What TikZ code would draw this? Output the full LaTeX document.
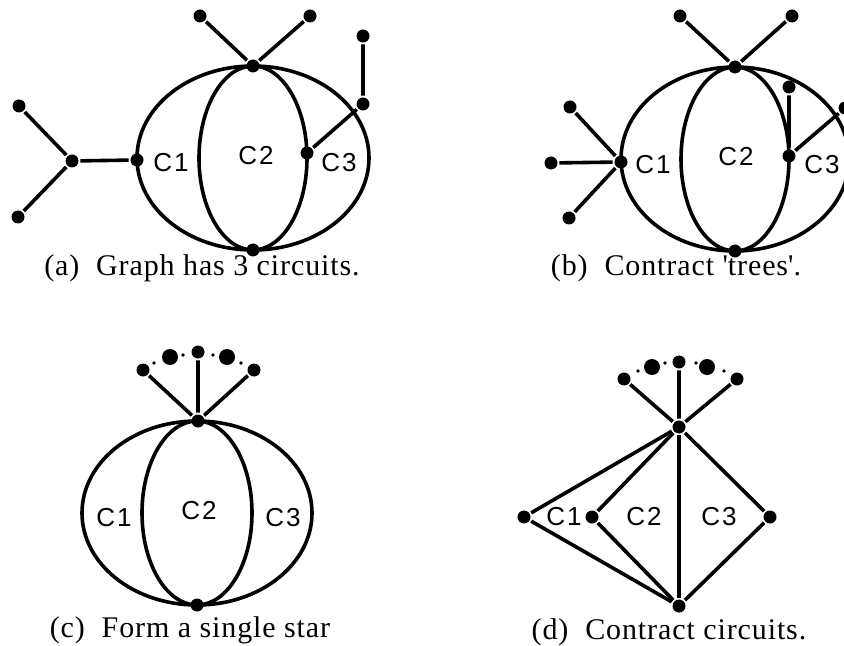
\documentclass[tikz,border=0pt]{standalone}
\usepackage{fontspec}
\setmainfont{Liberation Serif}
\setsansfont{Liberation Sans}
\usetikzlibrary{positioning}

\begin{document}
\begin{tikzpicture}[x=0.5pt,y=-0.5pt,line width=1.8pt]
\tikzset{dot/.style={circle,fill,inner sep=0pt,minimum size=6.5pt},
bigdot/.style={dot,minimum size=8pt},
tinydot/.style={dot,minimum size=1.8pt},
lbl/.style={font=\sffamily\fontsize{13}{15}\selectfont\addfontfeatures{LetterSpace=8}},
captxt/.style={font=\fontsize{15}{17}\selectfont\addfontfeatures{LetterSpace=3}}}
\useasboundingbox (0,0) rectangle (844,646);
\clip (0,0) rectangle (844,646);

% (a) graph has 3 circuits
\draw (253,158) ellipse [x radius=116,y radius=92];
\draw (253,158) ellipse [x radius=54,y radius=92];
\node[dot] (aT) at (253,66) {};
\node[dot] (aB) at (253,250) {};
\node[dot] (aTl) at (200,16) {};
\node[dot] (aTr) at (310,16) {};
\node[dot] (aC1) at (137,160) {};
\node[dot] (aJ) at (72,161) {};
\node[dot] (aJu) at (19,106) {};
\node[dot] (aJd) at (18,217) {};
\node[dot] (aC3) at (307,153) {};
\node[dot] (aK) at (363,104) {};
\node[dot] (aKu) at (363,36) {};
\draw (aTl)--(aT)--(aTr);
\draw (aJu)--(aJ)--(aJd);
\draw (aJ)--(aC1);
\draw (aC3)--(aK)--(aKu);
\node[lbl] (aL1) at (171,163) {C1};
\node[lbl] (aL2) at (256,156) {C2};
\node[lbl] (aL3) at (339,163) {C3};
\node[captxt] (acap) at (202,268) {(a)\ \ Graph has 3 circuits.};

% (b) contract trees
\draw (735,159) ellipse [x radius=114,y radius=92];
\draw (735,159) ellipse [x radius=54,y radius=92];
\node[dot] (bT) at (735,67) {};
\node[dot] (bB) at (735,251) {};
\node[dot] (bTl) at (680,16) {};
\node[dot] (bTr) at (792,16) {};
\node[dot] (bC1) at (621,162) {};
\node[dot] (bLu) at (570,107) {};
\node[dot] (bLm) at (551,163) {};
\node[dot] (bLd) at (569,218) {};
\node[dot] (bC3) at (789,156) {};
\node[dot] (bV) at (789,87) {};
\node[dot] (bK) at (845,108) {};
\draw (bTl)--(bT)--(bTr);
\draw (bLu)--(bC1) (bLm)--(bC1) (bLd)--(bC1);
\draw (bV)--(bC3)--(bK);
\node[lbl] (bL1) at (653,165) {C1};
\node[lbl] (bL2) at (736,157) {C2};
\node[lbl] (bL3) at (822,165) {C3};
\node[captxt] (bcap) at (676,268) {(b)\ \ Contract \textquotesingle trees\textquotesingle.};

% (c) form a single star
\draw (197,513) ellipse [x radius=115,y radius=92];
\draw (197,513) ellipse [x radius=55,y radius=92];
\node[dot] (cT) at (198,421) {};
\node[dot] (cB) at (197,605) {};
\node[dot] (cS1) at (143,370) {};
\node[dot] (cS2) at (198,352) {};
\node[dot] (cS3) at (254,370) {};
\node[bigdot] (cX1) at (170,357) {};
\node[bigdot] (cX2) at (227,357) {};
\foreach \p/\n in {154/363,183/355,213/355,241/363}
  \node[tinydot] at (\p,\n) {};
\draw (cS1)--(cT) (cS2)--(cT) (cS3)--(cT);
\node[lbl] (cL1) at (114,518) {C1};
\node[lbl] (cL2) at (199,511) {C2};
\node[lbl] (cL3) at (283,518) {C3};
\node[captxt] (ccap) at (190,630) {(c)\ \ Form a single star};

% (d) contract circuits
\node[dot] (dT) at (679,427) {};
\node[dot] (dB) at (679,606) {};
\node[dot] (dL) at (524,517) {};
\node[dot] (dM) at (592,517) {};
\node[dot] (dR) at (770,517) {};
\node[dot] (dS1) at (624,379) {};
\node[dot] (dS2) at (679,362) {};
\node[dot] (dS3) at (737,379) {};
\node[bigdot] (dX1) at (652,367) {};
\node[bigdot] (dX2) at (707,367) {};
\foreach \p/\n in {638/371,665/363,696/363,724/371}
  \node[tinydot] at (\p,\n) {};
\draw (dS1)--(dT) (dS2)--(dT) (dS3)--(dT);
\draw (dT)--(dL)--(dB);
\draw (dT)--(dM)--(dB);
\draw (dT)--(dR)--(dB);
\draw (dT)--(dB);
\node[lbl] (dL1) at (564,517) {C1};
\node[lbl] (dL2) at (644,517) {C2};
\node[lbl] (dL3) at (719,517) {C3};
\node[captxt] (dcap) at (669,632) {(d)\ \ Contract circuits.};
\end{tikzpicture}
\end{document}
